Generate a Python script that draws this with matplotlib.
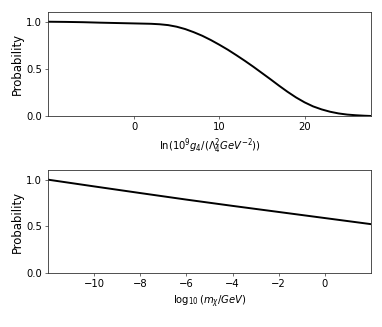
import matplotlib
matplotlib.use("Agg")
import matplotlib.pyplot as plt

# Top panel: probability vs ln(10^9 g4/(Lambda4^2 GeV^-2))
g4_x = [-10.1, -8, -6, -4, -2, 0, 2, 3, 4, 5, 6, 7, 8, 9, 10, 11, 12, 13, 14,
        15, 16, 17, 18, 19, 20, 21, 22, 23, 24, 25, 26, 27, 27.8]
g4_p = [1.0, 0.998, 0.995, 0.99, 0.986, 0.982, 0.978, 0.973, 0.964, 0.947,
        0.922, 0.889, 0.851, 0.806, 0.756, 0.703, 0.645, 0.585, 0.522, 0.456,
        0.39, 0.322, 0.257, 0.197, 0.145, 0.102, 0.07, 0.045, 0.027, 0.015,
        0.008, 0.003, 0.0]

# Bottom panel: probability vs log10(m_chi/GeV)
m_x = [-12, -10, -8, -6, -4, -2, 0, 2]
m_p = [1.0, 0.928, 0.857, 0.787, 0.72, 0.655, 0.59, 0.525]

top_xticks = [0, 10, 20]
bot_xticks = [-10, -8, -6, -4, -2, 0]
yticks = [0.0, 0.5, 1.0]

fs = 8.0
plt.rcParams['font.family'] = ['DejaVu Sans']
plt.rcParams['font.stretch'] = 'condensed'
plt.rcParams['mathtext.fontset'] = 'custom'
plt.rcParams['mathtext.rm'] = 'DejaVu Sans:stretch=condensed'
plt.rcParams['mathtext.it'] = 'DejaVu Sans:italic:stretch=condensed'
plt.rcParams['mathtext.bf'] = 'DejaVu Sans:bold:stretch=condensed'
plt.rcParams['mathtext.sf'] = 'DejaVu Sans:stretch=condensed'

fig = plt.figure(figsize=(3.82, 3.27), dpi=100)
ax1 = fig.add_axes([0.1257, 0.6453, 0.8455, 0.3171])
ax2 = fig.add_axes([0.1257, 0.1642, 0.8455, 0.3150])

for ax in (ax1, ax2):
    for sp in ax.spines.values():
        sp.set_linewidth(0.6)
        sp.set_color('#333333')
    ax.tick_params(labelsize=fs, length=2.2, width=0.5, pad=2.2, color='#333333')
    ax.set_ylim(0, 1.1)
    ax.set_yticks(yticks)
    ax.set_yticklabels([f"{v:.1f}" for v in yticks])
    ax.set_ylabel("Probability", fontsize=9.4, fontstretch='condensed', labelpad=1.5)

ax1.plot(g4_x, g4_p, color='black', lw=1.4)
ax1.set_xlim(-10.1, 27.8)
ax1.set_xticks(top_xticks)
ax1.set_xlabel(r"$\ln(10^9 g_4/(\Lambda_4^2 GeV^{-2}))$", fontsize=fs, labelpad=3)

ax2.plot(m_x, m_p, color='black', lw=1.4)
ax2.set_xlim(-12, 2)
ax2.set_xticks(bot_xticks)
ax2.set_xticklabels([("\u2212" + str(-t)) if t < 0 else str(t) for t in bot_xticks])
ax2.set_xlabel(r"$\log_{10}(m_\chi/GeV)$", fontsize=fs, labelpad=3)

fig.savefig("out.png", dpi=100)
